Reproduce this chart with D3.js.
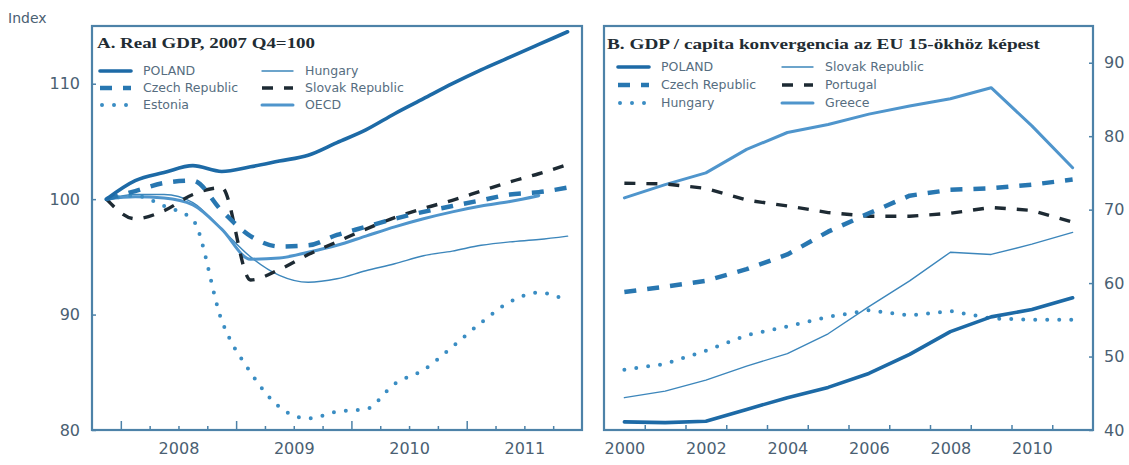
<!DOCTYPE html>
<html><head><meta charset="utf-8">
<script src="https://cdn.jsdelivr.net/npm/d3@7"></script>
<style>
html,body{margin:0;padding:0;background:#fff;}
svg{display:block;}
</style></head>
<body>
<svg id="c" width="1129" height="465"></svg>
<script>
// ---------- Panel A data (quarterly, 2007Q4 = 100) ----------
const quartersA = ["2007Q4","2008Q1","2008Q2","2008Q3","2008Q4","2009Q1","2009Q2","2009Q3","2009Q4",
  "2010Q1","2010Q2","2010Q3","2010Q4","2011Q1","2011Q2","2011Q3","2011Q4"];
const polandA  = [100,101.6,102.3,102.9,102.4,102.8,103.3,103.8,104.9,106.0,107.4,108.7,110.0,111.2,112.3,113.4,114.5];
const czechA   = [100,100.7,101.4,101.6,99.0,96.8,95.9,96.0,96.9,97.6,98.3,98.9,99.4,99.9,100.4,100.6,101.0];
const estoniaA = [100,100.3,99.4,98.2,89.5,85.0,82.0,81.0,81.6,81.8,84.0,85.2,87.2,89.3,91.1,91.9,91.2];
const hungaryA = [100,100.4,100.4,99.7,97.4,95.0,93.4,92.8,93.1,93.8,94.4,95.1,95.5,96.0,96.3,96.5,96.8];
const slovakA  = [100,98.3,99.0,100.4,101.0,93.0,93.9,95.2,96.3,97.4,98.4,99.2,99.9,100.7,101.5,102.2,103.0];
const oecdA    = [100,100.2,100.1,99.5,97.4,94.8,94.9,95.4,96.0,96.8,97.6,98.3,98.9,99.4,99.8,100.3,null];
const yTicksA  = [80,90,100,110];
const yearLabelsA = [2008,2009,2010,2011];

// ---------- Panel B data (annual, EU15 = 100) ----------
const yearsB    = [2000,2001,2002,2003,2004,2005,2006,2007,2008,2009,2010,2011];
const polandB   = [41.1,41.0,41.2,42.8,44.4,45.8,47.7,50.3,53.4,55.4,56.4,58.0];
const czechB    = [58.8,59.5,60.3,61.9,63.9,67.0,69.5,71.9,72.7,72.9,73.4,74.1];
const hungaryB  = [48.2,49.0,50.8,52.9,54.1,55.4,56.3,55.6,56.2,55.2,55.0,55.0];
const slovakB   = [44.4,45.3,46.8,48.7,50.4,53.1,56.8,60.3,64.2,63.9,65.3,66.9];
const portugalB = [73.6,73.5,72.9,71.3,70.5,69.6,69.1,69.1,69.5,70.3,69.9,68.3];
const greeceB   = [71.6,73.4,75.0,78.2,80.5,81.6,83.0,84.1,85.1,86.6,81.4,75.7];
const yTicksB   = [40,50,60,70,80,90];
const yearLabelsB = [2000,2002,2004,2006,2008,2010];

// ---------- styles ----------
const ST = {
  poland:  {stroke:"#1d6aa6", w:3.6, dash:null, cap:"round"},
  czech:   {stroke:"#2877b1", w:4.5, dash:"12,11", cap:"butt"},
  dotted:  {stroke:"#3a8dc3", w:4, dash:"0,12", cap:"round"},
  thin:    {stroke:"#3c86bb", w:1.4, dash:null, cap:"round"},
  black:   {stroke:"#1d2a33", w:3.4, dash:"11,11", cap:"butt"},
  medium:  {stroke:"#4f95cc", w:3, dash:null, cap:"round"}
};
const frameColor = "#4d82a8";
const tickTextColor = "#4a6072";
const legendTextColor = "#566d80";

const svg = d3.select("#c");

function qToT(q){ const y=+q.slice(0,4), n=+q.slice(5); return y + (n-1)/4 + 0.125; }

// ---------- Panel A ----------
const xA = d3.scaleLinear().domain([2007.75, 2012]).range([92, 582]);
const yA = d3.scaleLinear().domain([80, 115]).range([430, 26]);
const gA = svg.append("g");

const lineA = d3.line().defined(d=>d[1]!=null).x(d=>xA(d[0])).y(d=>yA(d[1])).curve(d3.curveMonotoneX);
function drawLine(g, line, xs, vals, st){
  g.append("path").datum(xs.map((x,i)=>[x, vals[i]]))
   .attr("d", line).attr("fill","none")
   .attr("stroke", st.stroke).attr("stroke-width", st.w)
   .attr("stroke-dasharray", st.dash).attr("stroke-linecap", st.cap)
   .attr("stroke-linejoin","round");
}
const tA = quartersA.map(qToT);
drawLine(gA, lineA, tA, hungaryA, ST.thin);
drawLine(gA, lineA, tA, oecdA, ST.medium);
drawLine(gA, lineA, tA, estoniaA, ST.dotted);
drawLine(gA, lineA, tA, slovakA, ST.black);
drawLine(gA, lineA, tA, czechA, ST.czech);
drawLine(gA, lineA, tA, polandA, ST.poland);

// axes A
const qBounds = d3.range(0,17).map(i=>2008 + i*0.25).filter(v=>v<2012);
const axQ = gA.append("g").attr("transform","translate(0,430)")
  .call(d3.axisBottom(xA).tickValues(qBounds.filter(v=>v%1!==0)).tickSize(-4).tickFormat(""));
const axY = gA.append("g").attr("transform","translate(0,430)")
  .call(d3.axisBottom(xA).tickValues([2008,2009,2010,2011]).tickSize(-9).tickFormat(""));
const axL = gA.append("g").attr("transform","translate(0,430)")
  .call(d3.axisBottom(xA).tickValues(yearLabelsA.map(y=>y+0.5)).tickSize(0).tickPadding(13).tickFormat(d=>Math.floor(d)));
const axLeft = gA.append("g").attr("transform","translate(92,0)")
  .call(d3.axisLeft(yA).tickValues(yTicksA).tickSize(-4).tickPadding(12));
[axQ,axY,axL,axLeft].forEach(a=>{
  a.select(".domain").remove();
  a.selectAll("line").attr("stroke",frameColor).attr("stroke-width",1.5);
  a.selectAll("text").attr("font-family","DejaVu Sans, sans-serif").attr("font-size",16).attr("fill",tickTextColor);
});
gA.append("rect").attr("x",92).attr("y",26).attr("width",490).attr("height",404)
  .attr("fill","none").attr("stroke",frameColor).attr("stroke-width",2.2);

// title A
gA.append("text").attr("x",97).attr("y",48).text("A. Real GDP, 2007 Q4=100")
  .attr("font-family","Liberation Serif, DejaVu Serif, serif").attr("font-weight","bold")
  .attr("font-size",14).attr("fill","#222c33").attr("textLength",218).attr("lengthAdjust","spacingAndGlyphs");

// legend A
const legA = [
  {n:"POLAND", st:ST.poland, x:100, y:71},
  {n:"Czech Republic", st:ST.czech, x:100, y:88},
  {n:"Estonia", st:ST.dotted, x:100, y:105},
  {n:"Hungary", st:ST.thin, x:262, y:71},
  {n:"Slovak Republic", st:ST.black, x:262, y:88},
  {n:"OECD", st:ST.medium, x:262, y:105}
];
function drawLegend(g, items){
  items.forEach(it=>{
    g.append("line").attr("x1",it.x + (it.st.cap==="round"&&it.st.dash?2:0)).attr("x2",it.x+31).attr("y1",it.y).attr("y2",it.y)
      .attr("stroke",it.st.stroke).attr("stroke-width",it.st.w).attr("stroke-dasharray",it.st.dash)
      .attr("stroke-linecap",it.st.cap);
    g.append("text").attr("x",it.x+43).attr("y",it.y).attr("dy","0.35em").text(it.n)
      .attr("font-family","DejaVu Sans, sans-serif").attr("font-size",12.5).attr("fill",legendTextColor);
  });
}
drawLegend(gA, legA);

// ---------- Panel B ----------
const xB = d3.scaleLinear().domain([2000, 2012]).range([604, 1093]);
const yB = d3.scaleLinear().domain([40, 95]).range([430, 26]);
const gB = svg.append("g");
const lineB = d3.line().x(d=>xB(d[0]+0.5)).y(d=>yB(d[1]));
drawLine(gB, lineB, yearsB, slovakB, ST.thin);
drawLine(gB, lineB, yearsB, greeceB, ST.medium);
drawLine(gB, lineB, yearsB, hungaryB, ST.dotted);
drawLine(gB, lineB, yearsB, portugalB, ST.black);
drawLine(gB, lineB, yearsB, czechB, ST.czech);
drawLine(gB, lineB, yearsB, polandB, ST.poland);

const bT = gB.append("g").attr("transform","translate(0,430)")
  .call(d3.axisBottom(xB).tickValues(d3.range(2001,2012)).tickSize(-5).tickFormat(""));
const bL = gB.append("g").attr("transform","translate(0,430)")
  .call(d3.axisBottom(xB).tickValues(yearLabelsB.map(y=>y+0.5)).tickSize(0).tickPadding(13).tickFormat(d=>Math.floor(d)));
const bR = gB.append("g").attr("transform","translate(1093,0)")
  .call(d3.axisRight(yB).tickValues(yTicksB).tickSize(-4).tickPadding(11));
[bT,bL,bR].forEach(a=>{
  a.select(".domain").remove();
  a.selectAll("line").attr("stroke",frameColor).attr("stroke-width",1.5);
  a.selectAll("text").attr("font-family","DejaVu Sans, sans-serif").attr("font-size",16).attr("fill",tickTextColor);
});
gB.append("rect").attr("x",604).attr("y",26).attr("width",489).attr("height",404)
  .attr("fill","none").attr("stroke",frameColor).attr("stroke-width",2.2);

gB.append("text").attr("x",607).attr("y",49).text("B. GDP / capita konvergencia az EU 15-ökhöz képest")
  .attr("font-family","Liberation Serif, DejaVu Serif, serif").attr("font-weight","bold")
  .attr("font-size",14).attr("fill","#222c33").attr("textLength",433).attr("lengthAdjust","spacingAndGlyphs");

const legB = [
  {n:"POLAND", st:ST.poland, x:618, y:67},
  {n:"Czech Republic", st:ST.czech, x:618, y:85},
  {n:"Hungary", st:ST.dotted, x:618, y:103},
  {n:"Slovak Republic", st:ST.thin, x:782, y:67},
  {n:"Portugal", st:ST.black, x:782, y:85},
  {n:"Greece", st:ST.medium, x:782, y:103}
];
drawLegend(gB, legB);

// "Index" label
svg.append("text").attr("x",8).attr("y",23).text("Index")
  .attr("font-family","DejaVu Sans, sans-serif").attr("font-size",14).attr("fill",tickTextColor);
</script>
</body></html>
